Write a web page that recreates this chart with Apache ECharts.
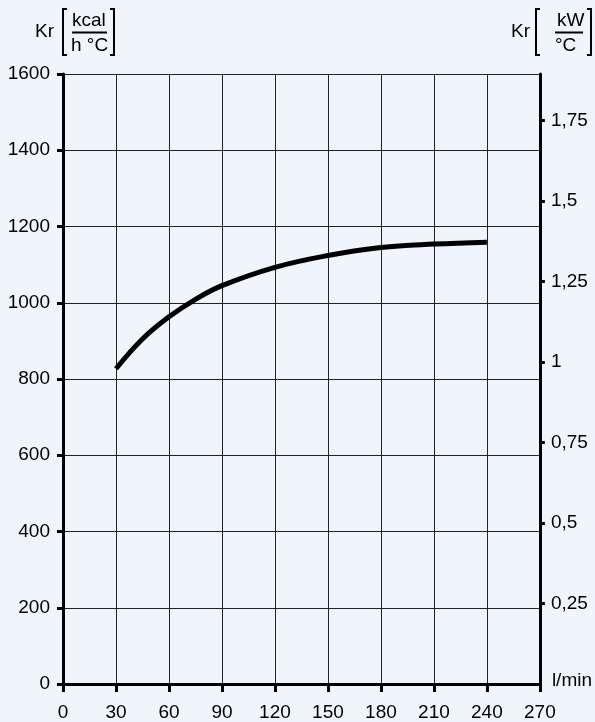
<!DOCTYPE html>
<html>
<head>
<meta charset="utf-8">
<script src="https://cdn.jsdelivr.net/npm/echarts@6/dist/echarts.min.js"></script>
<style>
html,body{margin:0;padding:0;background:#f0f5fc;}
#chart{width:595px;height:722px;}
</style>
</head>
<body>
<div id="chart"></div>
<script>
const flowRates = [30, 45, 60, 75, 90, 120, 150, 180, 210, 240];
const krKcal = [827, 905, 963, 1009, 1045, 1093, 1124, 1145, 1154, 1159];
const xTicks = [0, 30, 60, 90, 120, 150, 180, 210, 240, 270];
const leftTicks = [0, 200, 400, 600, 800, 1000, 1200, 1400, 1600];
const rightTicks = [0.25, 0.5, 0.75, 1, 1.25, 1.5, 1.75];
const RIGHT_MAX = 1.895;

const FONT = '"Liberation Sans", Arial, sans-serif';
const chart = echarts.init(document.getElementById('chart'), null, {renderer: 'canvas'});

const seriesData = flowRates.map((x, i) => [x, krKcal[i]]);

chart.setOption({
  backgroundColor: '#f0f5fc',
  animation: false,
  textStyle: {fontFamily: FONT},
  grid: {left: 63, right: 54, top: 74, bottom: 37, containLabel: false},
  xAxis: {
    type: 'value', min: 0, max: 270, interval: 30,
    name: 'l/min', nameLocation: 'end', nameGap: 12,
    nameTextStyle: {color: '#000', fontSize: 19, fontFamily: FONT, verticalAlign: 'bottom', padding: [0, 0, -6, 0]},
    axisLine: {show: true, lineStyle: {color: '#000', width: 3}},
    axisTick: {show: true, length: 8, lineStyle: {color: '#000', width: 3}},
    axisLabel: {color: '#000', fontSize: 19, margin: 19, fontFamily: FONT, formatter: v => String(v)},
    splitLine: {show: true, lineStyle: {color: '#222', width: 1}}
  },
  yAxis: [
    {
      type: 'value', min: 0, max: 1600, interval: 200, position: 'left',
      axisLine: {show: true, onZero: false, lineStyle: {color: '#000', width: 3}},
      axisTick: {show: true, length: 6, lineStyle: {color: '#000', width: 3}},
      axisLabel: {color: '#000', fontSize: 19, margin: 13, fontFamily: FONT, formatter: v => String(v)},
      splitLine: {show: true, lineStyle: {color: '#222', width: 1}}
    },
    {
      type: 'value', min: 0, max: RIGHT_MAX, position: 'right',
      axisLine: {show: true, onZero: false, lineStyle: {color: '#000', width: 3}},
      axisTick: {show: true, length: 5, customValues: rightTicks, lineStyle: {color: '#000', width: 3}},
      axisLabel: {
        color: '#000', fontSize: 19, margin: 11, fontFamily: FONT,
        customValues: rightTicks,
        formatter: v => String(v).replace('.', ',')
      },
      splitLine: {show: false}
    }
  ],
  series: [{
    type: 'line',
    data: seriesData,
    smooth: 0.4,
    showSymbol: false,
    lineStyle: {color: '#000', width: 5, cap: 'butt'},
    z: 5
  }],
  graphic: [
    // left header
    {type: 'text', left: 35, top: 22, style: {text: 'Kr', fontSize: 19, fontFamily: FONT, fill: '#000'}},
    {type: 'polyline', shape: {points: [[67, 9], [63, 9], [63, 55], [67, 55]]}, style: {stroke: '#000', lineWidth: 2, fill: null}},
    {type: 'text', left: 72, top: 11, style: {text: 'kcal', fontSize: 19, fontFamily: FONT, fill: '#000'}},
    {type: 'line', shape: {x1: 72, y1: 32.5, x2: 107, y2: 32.5}, style: {stroke: '#000', lineWidth: 2}},
    {type: 'text', left: 71, top: 36, style: {text: 'h °C', fontSize: 19, fontFamily: FONT, fill: '#000'}},
    {type: 'polyline', shape: {points: [[110, 9], [114, 9], [114, 55], [110, 55]]}, style: {stroke: '#000', lineWidth: 2, fill: null}},
    // right header
    {type: 'text', left: 511, top: 22, style: {text: 'Kr', fontSize: 19, fontFamily: FONT, fill: '#000'}},
    {type: 'polyline', shape: {points: [[540, 9], [536, 9], [536, 55], [540, 55]]}, style: {stroke: '#000', lineWidth: 2, fill: null}},
    {type: 'text', left: 557, top: 11, style: {text: 'kW', fontSize: 19, fontFamily: FONT, fill: '#000'}},
    {type: 'line', shape: {x1: 555, y1: 32.5, x2: 583, y2: 32.5}, style: {stroke: '#000', lineWidth: 2}},
    {type: 'text', left: 555, top: 36, style: {text: '°C', fontSize: 19, fontFamily: FONT, fill: '#000'}},
    {type: 'polyline', shape: {points: [[587, 9], [591, 9], [591, 55], [587, 55]]}, style: {stroke: '#000', lineWidth: 2, fill: null}}
  ]
});
</script>
</body>
</html>
